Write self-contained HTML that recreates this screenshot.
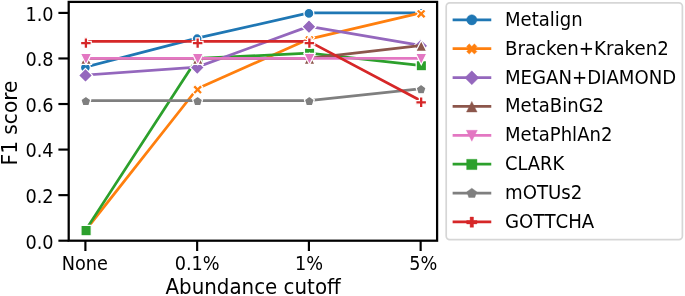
<!DOCTYPE html>
<html lang="en"><head><meta charset="utf-8"><title>F1 score vs abundance cutoff</title>
<style>
html,body{margin:0;padding:0;background:#fff;}
body{width:685px;height:296px;overflow:hidden;}
svg{display:block;will-change:transform;}
text{font-family:"DejaVu Sans","Liberation Sans",sans-serif;fill:#000;}
.t{font-size:18.2px;}
.l{font-size:19.9px;}
.k{font-kerning:none;}
</style></head><body>
<svg width="685" height="296" viewBox="0 0 685 296">
<rect width="685" height="296" fill="#fff"/>
<defs><clipPath id="ax"><rect x="68.7" y="1.9" width="368.40000000000003" height="238.79999999999998"/></clipPath></defs>
<g clip-path="url(#ax)">
<polyline points="85.40,67.12 197.15,38.19 308.90,12.90 420.65,12.90" fill="none" stroke="#1f77b4" stroke-width="2.75" stroke-linejoin="round" stroke-linecap="square"/>
<circle cx="85.40" cy="67.62" r="4.95" fill="#1f77b4" stroke="#fff" stroke-width="1.24" stroke-linejoin="miter"/>
<circle cx="197.15" cy="38.69" r="4.95" fill="#1f77b4" stroke="#fff" stroke-width="1.24" stroke-linejoin="miter"/>
<circle cx="308.90" cy="13.40" r="4.95" fill="#1f77b4" stroke="#fff" stroke-width="1.24" stroke-linejoin="miter"/>
<circle cx="420.65" cy="13.40" r="4.95" fill="#1f77b4" stroke="#fff" stroke-width="1.24" stroke-linejoin="miter"/>
<polyline points="85.40,230.45 197.15,88.76 308.90,39.10 420.65,12.90" fill="none" stroke="#ff7f0e" stroke-width="2.75" stroke-linejoin="round" stroke-linecap="square"/>
<polygon points="83.35,236.45 85.90,233.90 88.45,236.45 91.00,233.90 88.45,231.35 91.00,228.80 88.45,226.25 85.90,228.80 83.35,226.25 80.80,228.80 83.35,231.35 80.80,233.90" fill="#ff7f0e" stroke="#fff" stroke-width="1.24" stroke-linejoin="miter"/>
<polygon points="195.10,94.76 197.65,92.21 200.20,94.76 202.75,92.21 200.20,89.66 202.75,87.11 200.20,84.56 197.65,87.11 195.10,84.56 192.55,87.11 195.10,89.66 192.55,92.21" fill="#ff7f0e" stroke="#fff" stroke-width="1.24" stroke-linejoin="miter"/>
<polygon points="306.85,45.10 309.40,42.55 311.95,45.10 314.50,42.55 311.95,40.00 314.50,37.45 311.95,34.90 309.40,37.45 306.85,34.90 304.30,37.45 306.85,40.00 304.30,42.55" fill="#ff7f0e" stroke="#fff" stroke-width="1.24" stroke-linejoin="miter"/>
<polygon points="418.60,18.90 421.15,16.35 423.70,18.90 426.25,16.35 423.70,13.80 426.25,11.25 423.70,8.70 421.15,11.25 418.60,8.70 416.05,11.25 418.60,13.80 416.05,16.35" fill="#ff7f0e" stroke="#fff" stroke-width="1.24" stroke-linejoin="miter"/>
<polyline points="85.40,230.45 197.15,58.46 308.90,53.22 420.65,65.52" fill="none" stroke="#2ca02c" stroke-width="2.75" stroke-linejoin="round" stroke-linecap="square"/>
<polygon points="80.95,235.75 91.25,235.75 91.25,225.45 80.95,225.45" fill="#2ca02c" stroke="#fff" stroke-width="1.24" stroke-linejoin="miter"/>
<polygon points="192.70,63.76 203.00,63.76 203.00,53.46 192.70,53.46" fill="#2ca02c" stroke="#fff" stroke-width="1.24" stroke-linejoin="miter"/>
<polygon points="304.45,58.52 314.75,58.52 314.75,48.22 304.45,48.22" fill="#2ca02c" stroke="#fff" stroke-width="1.24" stroke-linejoin="miter"/>
<polygon points="416.20,70.82 426.50,70.82 426.50,60.52 416.20,60.52" fill="#2ca02c" stroke="#fff" stroke-width="1.24" stroke-linejoin="miter"/>
<polyline points="85.40,75.09 197.15,67.12 308.90,26.34 420.65,45.48" fill="none" stroke="#9467bd" stroke-width="2.75" stroke-linejoin="round" stroke-linecap="square"/>
<polygon points="85.50,68.42 92.57,75.49 85.50,82.56 78.43,75.49" fill="#9467bd" stroke="#fff" stroke-width="1.24" stroke-linejoin="miter"/>
<polygon points="197.25,60.45 204.32,67.52 197.25,74.59 190.18,67.52" fill="#9467bd" stroke="#fff" stroke-width="1.24" stroke-linejoin="miter"/>
<polygon points="309.00,19.67 316.07,26.74 309.00,33.81 301.93,26.74" fill="#9467bd" stroke="#fff" stroke-width="1.24" stroke-linejoin="miter"/>
<polygon points="420.75,38.80 427.82,45.88 420.75,52.95 413.68,45.88" fill="#9467bd" stroke="#fff" stroke-width="1.24" stroke-linejoin="miter"/>
<polyline points="85.40,58.46 197.15,58.46 308.90,58.46 420.65,45.48" fill="none" stroke="#8c564b" stroke-width="2.75" stroke-linejoin="round" stroke-linecap="square"/>
<polygon points="86.00,53.41 80.55,64.31 91.45,64.31" fill="#8c564b" stroke="#fff" stroke-width="1.24" stroke-linejoin="miter"/>
<polygon points="197.75,53.41 192.30,64.31 203.20,64.31" fill="#8c564b" stroke="#fff" stroke-width="1.24" stroke-linejoin="miter"/>
<polygon points="309.50,53.41 304.05,64.31 314.95,64.31" fill="#8c564b" stroke="#fff" stroke-width="1.24" stroke-linejoin="miter"/>
<polygon points="421.25,40.43 415.80,51.33 426.70,51.33" fill="#8c564b" stroke="#fff" stroke-width="1.24" stroke-linejoin="miter"/>
<polyline points="85.40,58.46 197.15,58.46 308.90,58.46 420.65,58.46" fill="none" stroke="#e377c2" stroke-width="2.75" stroke-linejoin="round" stroke-linecap="square"/>
<polygon points="86.00,64.66 91.60,53.46 80.40,53.46" fill="#e377c2" stroke="#fff" stroke-width="1.24" stroke-linejoin="miter"/>
<polygon points="197.75,64.66 203.35,53.46 192.15,53.46" fill="#e377c2" stroke="#fff" stroke-width="1.24" stroke-linejoin="miter"/>
<polygon points="309.50,64.66 315.10,53.46 303.90,53.46" fill="#e377c2" stroke="#fff" stroke-width="1.24" stroke-linejoin="miter"/>
<polygon points="421.25,64.66 426.85,53.46 415.65,53.46" fill="#e377c2" stroke="#fff" stroke-width="1.24" stroke-linejoin="miter"/>
<polyline points="85.40,100.60 197.15,100.60 308.90,100.60 420.65,88.76" fill="none" stroke="#7f7f7f" stroke-width="2.75" stroke-linejoin="round" stroke-linecap="square"/>
<polygon points="85.85,96.20 80.90,99.80 82.79,105.61 88.91,105.61 90.80,99.80" fill="#7f7f7f" stroke="#fff" stroke-width="1.24" stroke-linejoin="miter"/>
<polygon points="197.60,96.20 192.65,99.80 194.54,105.61 200.66,105.61 202.55,99.80" fill="#7f7f7f" stroke="#fff" stroke-width="1.24" stroke-linejoin="miter"/>
<polygon points="309.35,96.20 304.40,99.80 306.29,105.61 312.41,105.61 314.30,99.80" fill="#7f7f7f" stroke="#fff" stroke-width="1.24" stroke-linejoin="miter"/>
<polygon points="421.10,84.36 416.15,87.95 418.04,93.76 424.16,93.76 426.05,87.95" fill="#7f7f7f" stroke="#fff" stroke-width="1.24" stroke-linejoin="miter"/>
<polyline points="85.40,41.38 197.15,41.38 308.90,41.38 420.65,100.60" fill="none" stroke="#d62728" stroke-width="2.75" stroke-linejoin="round" stroke-linecap="square"/>
<polygon points="84.12,48.48 87.68,48.48 87.68,44.91 91.25,44.91 91.25,41.34 87.68,41.34 87.68,37.77 84.12,37.77 84.12,41.34 80.55,41.34 80.55,44.91 84.12,44.91" fill="#d62728" stroke="#fff" stroke-width="1.24" stroke-linejoin="miter"/>
<polygon points="195.87,48.48 199.43,48.48 199.43,44.91 203.00,44.91 203.00,41.34 199.43,41.34 199.43,37.77 195.87,37.77 195.87,41.34 192.30,41.34 192.30,44.91 195.87,44.91" fill="#d62728" stroke="#fff" stroke-width="1.24" stroke-linejoin="miter"/>
<polygon points="307.62,48.48 311.18,48.48 311.18,44.91 314.75,44.91 314.75,41.34 311.18,41.34 311.18,37.77 307.62,37.77 307.62,41.34 304.05,41.34 304.05,44.91 307.62,44.91" fill="#d62728" stroke="#fff" stroke-width="1.24" stroke-linejoin="miter"/>
<polygon points="419.37,107.70 422.93,107.70 422.93,104.14 426.50,104.14 426.50,100.57 422.93,100.57 422.93,97.00 419.37,97.00 419.37,100.57 415.80,100.57 415.80,104.14 419.37,104.14" fill="#d62728" stroke="#fff" stroke-width="1.24" stroke-linejoin="miter"/>
</g>
<line x1="85.40" y1="240.7" x2="85.40" y2="251.00" stroke="#000" stroke-width="2.15"/>
<text class="t" transform="translate(84.90,269.80) scale(0.972,1.05)" text-anchor="middle">None</text>
<line x1="197.15" y1="240.7" x2="197.15" y2="251.00" stroke="#000" stroke-width="2.15"/>
<text class="t" transform="translate(197.15,269.80) scale(0.972,1.05)" text-anchor="middle">0.1%</text>
<line x1="308.90" y1="240.7" x2="308.90" y2="251.00" stroke="#000" stroke-width="2.15"/>
<text class="t" transform="translate(308.90,269.80) scale(0.972,1.05)" text-anchor="middle">1%</text>
<line x1="420.65" y1="240.7" x2="420.65" y2="251.00" stroke="#000" stroke-width="2.15"/>
<text class="t" transform="translate(423.35,269.80) scale(0.972,1.05)" text-anchor="middle">5%</text>
<line x1="68.7" y1="240.70" x2="58.40" y2="240.70" stroke="#000" stroke-width="2.15"/>
<text class="t" transform="translate(53.60,248.50) scale(0.975,1.08)" text-anchor="end">0.0</text>
<line x1="68.7" y1="195.14" x2="58.40" y2="195.14" stroke="#000" stroke-width="2.15"/>
<text class="t" transform="translate(53.60,202.94) scale(0.975,1.08)" text-anchor="end">0.2</text>
<line x1="68.7" y1="149.58" x2="58.40" y2="149.58" stroke="#000" stroke-width="2.15"/>
<text class="t" transform="translate(53.60,157.38) scale(0.975,1.08)" text-anchor="end">0.4</text>
<line x1="68.7" y1="104.02" x2="58.40" y2="104.02" stroke="#000" stroke-width="2.15"/>
<text class="t" transform="translate(53.60,111.82) scale(0.975,1.08)" text-anchor="end">0.6</text>
<line x1="68.7" y1="58.46" x2="58.40" y2="58.46" stroke="#000" stroke-width="2.15"/>
<text class="t" transform="translate(53.60,66.26) scale(0.975,1.08)" text-anchor="end">0.8</text>
<line x1="68.7" y1="12.90" x2="58.40" y2="12.90" stroke="#000" stroke-width="2.15"/>
<text class="t" transform="translate(53.60,20.70) scale(0.975,1.08)" text-anchor="end">1.0</text>
<rect x="68.7" y="1.9" width="368.40" height="238.80" fill="none" stroke="#000" stroke-width="2.25" stroke-linejoin="miter"/>
<text class="l" transform="translate(253.10,294.00) scale(0.998,1.05)" text-anchor="middle">Abundance cutoff</text>
<text class="l" transform="translate(16.90,123.00) rotate(-90) scale(1.012,1.03)" text-anchor="middle">F1 score</text>
<rect x="446.2" y="2.9" width="236.20" height="236.80" rx="3.6" ry="3.6" fill="#fff" fill-opacity="0.8" stroke="#cccccc" stroke-opacity="0.8" stroke-width="1.7"/>
<line x1="454.0" y1="19.80" x2="489.9" y2="19.80" stroke="#1f77b4" stroke-width="2.75" stroke-linecap="square"/>
<circle cx="471.80" cy="19.80" r="5.15" fill="#1f77b4" stroke="#1f77b4" stroke-width="0.4" stroke-linejoin="miter"/>
<text class="t" transform="translate(505.00,25.80) scale(0.992,1.05)" text-anchor="start">Metalign</text>
<line x1="454.0" y1="48.67" x2="489.9" y2="48.67" stroke="#ff7f0e" stroke-width="2.75" stroke-linecap="square"/>
<polygon points="469.23,54.12 471.80,51.55 474.38,54.12 476.95,51.55 474.38,48.97 476.95,46.39 474.38,43.82 471.80,46.39 469.23,43.82 466.65,46.39 469.23,48.97 466.65,51.55" fill="#ff7f0e" stroke="#ff7f0e" stroke-width="0.4" stroke-linejoin="miter"/>
<text class="t" transform="translate(505.00,54.67) scale(1.0,1.05)" text-anchor="start">Bracken+Kraken2</text>
<line x1="454.0" y1="77.54" x2="489.9" y2="77.54" stroke="#9467bd" stroke-width="2.75" stroke-linecap="square"/>
<polygon points="471.80,70.84 478.80,77.84 471.80,84.84 464.80,77.84" fill="#9467bd" stroke="#9467bd" stroke-width="0.4" stroke-linejoin="miter"/>
<text class="t" transform="translate(505.00,83.54) scale(0.995,1.05)" text-anchor="start">MEGAN+DIAMOND</text>
<line x1="454.0" y1="106.41" x2="489.9" y2="106.41" stroke="#8c564b" stroke-width="2.75" stroke-linecap="square"/>
<polygon points="471.80,101.41 466.50,112.01 477.10,112.01" fill="#8c564b" stroke="#8c564b" stroke-width="0.4" stroke-linejoin="miter"/>
<text class="t" transform="translate(505.00,112.41) scale(0.992,1.05)" text-anchor="start">MetaBinG2</text>
<line x1="454.0" y1="135.28" x2="489.9" y2="135.28" stroke="#e377c2" stroke-width="2.75" stroke-linecap="square"/>
<polygon points="471.80,141.28 477.30,130.28 466.30,130.28" fill="#e377c2" stroke="#e377c2" stroke-width="0.4" stroke-linejoin="miter"/>
<text class="t" transform="translate(505.00,141.28) scale(0.992,1.05)" text-anchor="start">MetaPhlAn2</text>
<line x1="454.0" y1="164.15" x2="489.9" y2="164.15" stroke="#2ca02c" stroke-width="2.75" stroke-linecap="square"/>
<polygon points="466.65,169.60 476.95,169.60 476.95,159.30 466.65,159.30" fill="#2ca02c" stroke="#2ca02c" stroke-width="0.4" stroke-linejoin="miter"/>
<text class="t" transform="translate(505.00,170.15) scale(0.982,1.05)" text-anchor="start">CLARK</text>
<line x1="454.0" y1="193.02" x2="489.9" y2="193.02" stroke="#7f7f7f" stroke-width="2.75" stroke-linecap="square"/>
<polygon points="471.80,188.17 466.90,191.73 468.77,197.49 474.83,197.49 476.70,191.73" fill="#7f7f7f" stroke="#7f7f7f" stroke-width="0.4" stroke-linejoin="miter"/>
<text class="t" transform="translate(505.00,199.02) scale(0.998,1.05)" text-anchor="start">mOTUs2</text>
<line x1="454.0" y1="221.89" x2="489.9" y2="221.89" stroke="#d62728" stroke-width="2.75" stroke-linecap="square"/>
<polygon points="470.10,227.29 473.50,227.29 473.50,223.89 476.90,223.89 476.90,220.49 473.50,220.49 473.50,217.09 470.10,217.09 470.10,220.49 466.70,220.49 466.70,223.89 470.10,223.89" fill="#d62728" stroke="#d62728" stroke-width="0.4" stroke-linejoin="miter"/>
<text class="t k" transform="translate(505.00,227.89) scale(0.998,1.05)" text-anchor="start">GOTTCHA</text>
</svg></body></html>
